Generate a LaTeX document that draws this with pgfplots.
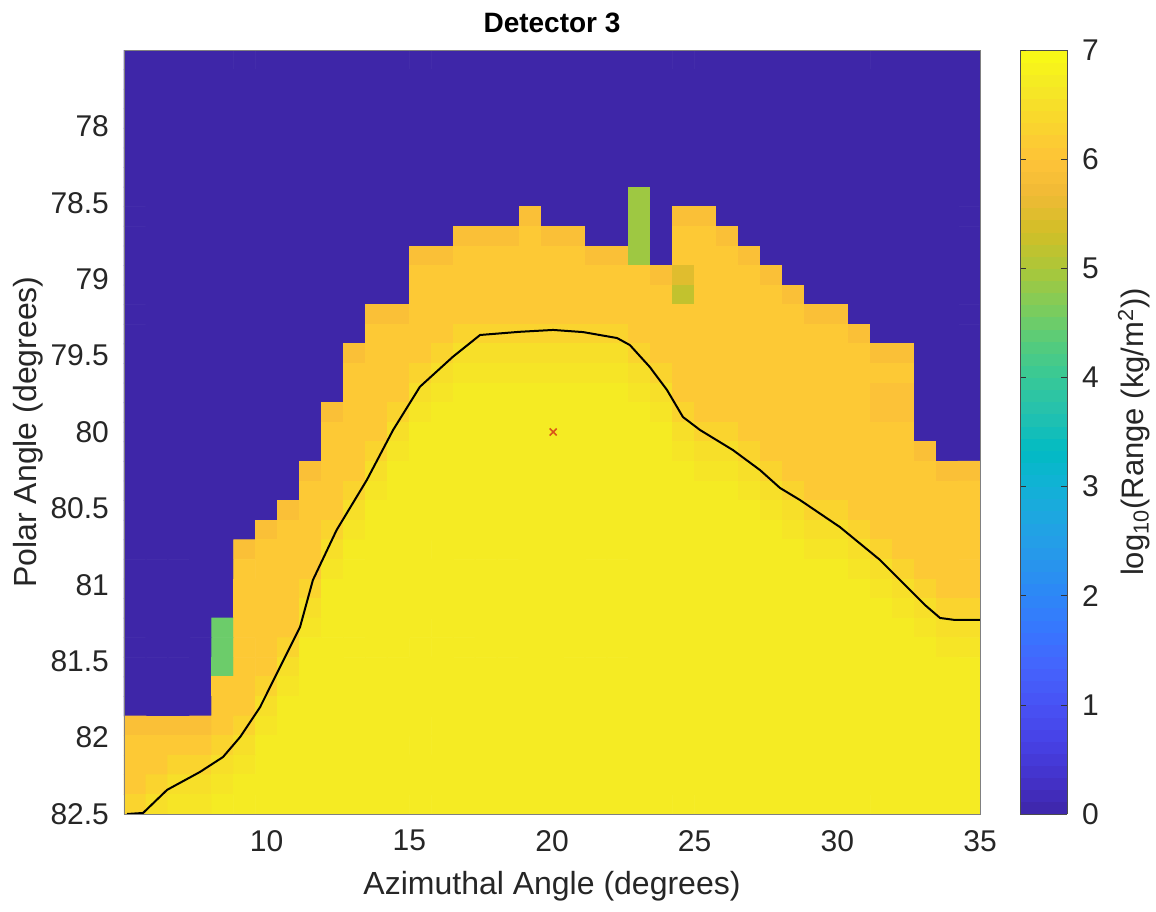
\documentclass[border=0pt]{standalone}
\usepackage{pgfplots}
\pgfplotsset{compat=1.18}
\usepackage{fontspec}
\setmainfont{Liberation Sans}
\definecolor{mred}{rgb}{0.85,0.33,0.10}
\pgfplotsset{colormap={parula}{
rgb=(0.2422,0.1504,0.6603) rgb=(0.2647,0.1978,0.7952) rgb=(0.2783,0.2559,0.8991)
rgb=(0.2810,0.3228,0.9579) rgb=(0.2699,0.3892,0.9906) rgb=(0.2206,0.4603,0.9973)
rgb=(0.1786,0.5289,0.9682) rgb=(0.1540,0.5902,0.9218) rgb=(0.1248,0.6459,0.8883)
rgb=(0.0689,0.6948,0.8394) rgb=(0.0067,0.7312,0.7660) rgb=(0.1408,0.7584,0.6842)
rgb=(0.2161,0.7843,0.5923) rgb=(0.3406,0.8008,0.4789) rgb=(0.5044,0.7993,0.3480)
rgb=(0.6720,0.7793,0.2227) rgb=(0.8203,0.7498,0.1535) rgb=(0.9393,0.7288,0.2100)
rgb=(0.9970,0.7659,0.2199) rgb=(0.9786,0.8386,0.1766) rgb=(0.9597,0.9135,0.1423)
rgb=(0.9769,0.9839,0.0805)}}
\begin{document}
\begin{tikzpicture}
\begin{axis}[
  name=ax, scale only axis, width=428pt, height=382pt,
  xmin=5, xmax=35, ymin=77.5, ymax=82.5, y dir=reverse,
  xtick={10,15,20,25,30,35}, xticklabels={10,15,20,25,30,35},
  ytick={78,78.5,79,79.5,80,80.5,81,81.5,82,82.5},
  yticklabels={78,78.5,79,79.5,80,80.5,81,81.5,82,82.5},
  tick label style={font=\fontsize{15}{17}\selectfont, text=black!85},
  xticklabel style={yshift=-4.5pt},
  yticklabel style={xshift=-4pt},
  xtick style={draw=none}, ytick style={draw=none},
  axis line style={draw=black!50, line width=0.4pt},
  xlabel={Azimuthal Angle (degrees)}, ylabel={Polar Angle (degrees)},
  label style={font=\fontsize{16}{19}\selectfont, text=black!85},
  xlabel style={yshift=-3pt}, ylabel style={yshift=-3pt},
  title={Detector 3}, title style={font=\bfseries\fontsize{14}{17}\selectfont, yshift=-1pt},
  colormap name=parula, point meta min=0, point meta max=7,
  colorbar sampled,
  colorbar style={at={(parent axis.north east)}, anchor=north west, xshift=11.5pt,
    samples=64,
    width=23.5pt, ytick={0,1,2,3,4,5,6,7}, yticklabels={0,1,2,3,4,5,6,7},
    yticklabel style={font=\fontsize{15}{17}\selectfont, text=black!85, xshift=4pt},
    ytick style={draw=black!80}, major tick length=3pt, tick align=inside,
    axis line style={draw=black!70},
    ylabel={log\textsubscript{10}(Range (kg/m\textsuperscript{2}))},
    ylabel style={font=\fontsize{15.5}{18}\selectfont, text=black!85, inner sep=0pt, yshift=-6pt}},
]
\addplot[matrix plot, mesh/cols=39, point meta=explicit]
  table[row sep=\\, meta=v,
    x expr={5+30*(\coordindex-39*floor((\coordindex+0.5)/39)+0.5)/39},
    y expr={77.5+5*(floor((\coordindex+0.5)/39)+0.5)/39}] {
v\\
0\\0\\0\\0\\0\\0\\0\\0\\0\\0\\ 0\\0\\0\\0\\0\\0\\0\\0\\0\\0\\ 0\\0\\0\\0\\0\\0\\0\\0\\0\\0\\ 0\\0\\0\\0\\0\\0\\0\\0\\0\\
0\\0\\0\\0\\0\\0\\0\\0\\0\\0\\ 0\\0\\0\\0\\0\\0\\0\\0\\0\\0\\ 0\\0\\0\\0\\0\\0\\0\\0\\0\\0\\ 0\\0\\0\\0\\0\\0\\0\\0\\0\\
0\\0\\0\\0\\0\\0\\0\\0\\0\\0\\ 0\\0\\0\\0\\0\\0\\0\\0\\0\\0\\ 0\\0\\0\\0\\0\\0\\0\\0\\0\\0\\ 0\\0\\0\\0\\0\\0\\0\\0\\0\\
0\\0\\0\\0\\0\\0\\0\\0\\0\\0\\ 0\\0\\0\\0\\0\\0\\0\\0\\0\\0\\ 0\\0\\0\\0\\0\\0\\0\\0\\0\\0\\ 0\\0\\0\\0\\0\\0\\0\\0\\0\\
0\\0\\0\\0\\0\\0\\0\\0\\0\\0\\ 0\\0\\0\\0\\0\\0\\0\\0\\0\\0\\ 0\\0\\0\\0\\0\\0\\0\\0\\0\\0\\ 0\\0\\0\\0\\0\\0\\0\\0\\0\\
0\\0\\0\\0\\0\\0\\0\\0\\0\\0\\ 0\\0\\0\\0\\0\\0\\0\\0\\0\\0\\ 0\\0\\0\\0\\0\\0\\0\\0\\0\\0\\ 0\\0\\0\\0\\0\\0\\0\\0\\0\\
0\\0\\0\\0\\0\\0\\0\\0\\0\\0\\ 0\\0\\0\\0\\0\\0\\0\\0\\0\\0\\ 0\\0\\0\\0\\0\\0\\0\\0\\0\\0\\ 0\\0\\0\\0\\0\\0\\0\\0\\0\\
0\\0\\0\\0\\0\\0\\0\\0\\0\\0\\ 0\\0\\0\\0\\0\\0\\0\\0\\0\\0\\ 0\\0\\0\\4.9\\0\\0\\0\\0\\0\\0\\ 0\\0\\0\\0\\0\\0\\0\\0\\0\\
0\\0\\0\\0\\0\\0\\0\\0\\0\\0\\ 0\\0\\0\\0\\0\\0\\0\\0\\5.9\\0\\ 0\\0\\0\\4.9\\0\\5.9\\5.9\\0\\0\\0\\ 0\\0\\0\\0\\0\\0\\0\\0\\0\\
0\\0\\0\\0\\0\\0\\0\\0\\0\\0\\ 0\\0\\0\\0\\0\\5.9\\5.9\\5.9\\6.1\\5.9\\ 5.9\\0\\0\\4.9\\0\\6.1\\6.1\\5.9\\0\\0\\ 0\\0\\0\\0\\0\\0\\0\\0\\0\\
0\\0\\0\\0\\0\\0\\0\\0\\0\\0\\ 0\\0\\0\\5.9\\5.9\\6.1\\6.1\\6.1\\6.1\\6.1\\ 6.1\\5.9\\5.9\\4.9\\0\\6.1\\6.1\\6.1\\5.9\\0\\ 0\\0\\0\\0\\0\\0\\0\\0\\0\\
0\\0\\0\\0\\0\\0\\0\\0\\0\\0\\ 0\\0\\0\\6.1\\6.1\\6.1\\6.1\\6.1\\6.1\\6.1\\ 6.1\\6.1\\6.1\\6.1\\5.9\\5.5\\6.1\\6.1\\6.1\\5.9\\ 0\\0\\0\\0\\0\\0\\0\\0\\0\\
0\\0\\0\\0\\0\\0\\0\\0\\0\\0\\ 0\\0\\0\\6.1\\6.1\\6.1\\6.1\\6.1\\6.1\\6.1\\ 6.1\\6.1\\6.1\\6.1\\6.1\\5.2\\6.1\\6.1\\6.1\\6.1\\ 5.9\\0\\0\\0\\0\\0\\0\\0\\0\\
0\\0\\0\\0\\0\\0\\0\\0\\0\\0\\ 0\\5.9\\5.9\\6.1\\6.1\\6.1\\6.1\\6.1\\6.1\\6.1\\ 6.1\\6.1\\6.1\\6.1\\6.1\\6.1\\6.1\\6.1\\6.1\\6.1\\ 6.1\\5.9\\5.9\\0\\0\\0\\0\\0\\0\\
0\\0\\0\\0\\0\\0\\0\\0\\0\\0\\ 0\\6.1\\6.1\\6.1\\6.1\\6.3\\6.3\\6.3\\6.3\\6.3\\ 6.3\\6.3\\6.3\\6.1\\6.1\\6.1\\6.1\\6.1\\6.1\\6.1\\ 6.1\\6.1\\6.1\\5.9\\0\\0\\0\\0\\0\\
0\\0\\0\\0\\0\\0\\0\\0\\0\\0\\ 5.9\\6.1\\6.1\\6.1\\6.3\\6.5\\6.5\\6.5\\6.5\\6.5\\ 6.5\\6.5\\6.5\\6.3\\6.1\\6.1\\6.1\\6.1\\6.1\\6.1\\ 6.1\\6.1\\6.1\\6.1\\5.9\\5.9\\0\\0\\0\\
0\\0\\0\\0\\0\\0\\0\\0\\0\\0\\ 6.1\\6.1\\6.1\\6.3\\6.5\\6.6\\6.6\\6.6\\6.6\\6.6\\ 6.6\\6.6\\6.6\\6.5\\6.3\\6.1\\6.1\\6.1\\6.1\\6.1\\ 6.1\\6.1\\6.1\\6.1\\6.1\\6.1\\0\\0\\0\\
0\\0\\0\\0\\0\\0\\0\\0\\0\\0\\ 6.1\\6.1\\6.1\\6.5\\6.6\\6.7\\6.7\\6.7\\6.7\\6.7\\ 6.7\\6.7\\6.7\\6.6\\6.5\\6.1\\6.1\\6.1\\6.1\\6.1\\ 6.1\\6.1\\6.1\\6.1\\5.95\\5.95\\0\\0\\0\\
0\\0\\0\\0\\0\\0\\0\\0\\0\\5.9\\ 6.1\\6.1\\6.3\\6.6\\6.7\\6.7\\6.7\\6.7\\6.7\\6.7\\ 6.7\\6.7\\6.7\\6.7\\6.6\\6.3\\6.1\\6.1\\6.1\\6.1\\ 6.1\\6.1\\6.1\\6.1\\5.95\\5.95\\0\\0\\0\\
0\\0\\0\\0\\0\\0\\0\\0\\0\\6.1\\ 6.1\\6.1\\6.5\\6.7\\6.7\\6.7\\6.7\\6.7\\6.7\\6.7\\ 6.7\\6.7\\6.7\\6.7\\6.7\\6.5\\6.3\\6.3\\6.1\\6.1\\ 6.1\\6.1\\6.1\\6.1\\6.1\\6.1\\0\\0\\0\\
0\\0\\0\\0\\0\\0\\0\\0\\0\\6.1\\ 6.1\\6.3\\6.6\\6.7\\6.7\\6.7\\6.7\\6.7\\6.7\\6.7\\ 6.7\\6.7\\6.7\\6.7\\6.7\\6.6\\6.5\\6.5\\6.3\\6.1\\ 6.1\\6.1\\6.1\\6.1\\6.1\\6.1\\5.9\\0\\0\\
0\\0\\0\\0\\0\\0\\0\\0\\5.9\\6.1\\ 6.1\\6.5\\6.7\\6.7\\6.7\\6.7\\6.7\\6.7\\6.7\\6.7\\ 6.7\\6.7\\6.7\\6.7\\6.7\\6.7\\6.6\\6.6\\6.5\\6.3\\ 6.1\\6.1\\6.1\\6.1\\6.1\\6.1\\6.1\\5.9\\5.9\\
0\\0\\0\\0\\0\\0\\0\\0\\6.1\\6.1\\ 6.3\\6.6\\6.7\\6.7\\6.7\\6.7\\6.7\\6.7\\6.7\\6.7\\ 6.7\\6.7\\6.7\\6.7\\6.7\\6.7\\6.7\\6.7\\6.6\\6.5\\ 6.3\\6.1\\6.1\\6.1\\6.1\\6.1\\6.1\\6.1\\6.1\\
0\\0\\0\\0\\0\\0\\0\\5.9\\6.1\\6.1\\ 6.5\\6.7\\6.7\\6.7\\6.7\\6.7\\6.7\\6.7\\6.7\\6.7\\ 6.7\\6.7\\6.7\\6.7\\6.7\\6.7\\6.7\\6.7\\6.7\\6.6\\ 6.5\\6.3\\6.3\\6.1\\6.1\\6.1\\6.1\\6.1\\6.1\\
0\\0\\0\\0\\0\\0\\5.9\\6.1\\6.1\\6.3\\ 6.6\\6.7\\6.7\\6.7\\6.7\\6.7\\6.7\\6.7\\6.7\\6.7\\ 6.7\\6.7\\6.7\\6.7\\6.7\\6.7\\6.7\\6.7\\6.7\\6.7\\ 6.6\\6.5\\6.5\\6.3\\6.1\\6.1\\6.1\\6.1\\6.1\\
0\\0\\0\\0\\0\\5.9\\6.1\\6.1\\6.1\\6.5\\ 6.7\\6.7\\6.7\\6.7\\6.7\\6.7\\6.7\\6.7\\6.7\\6.7\\ 6.7\\6.7\\6.7\\6.7\\6.7\\6.7\\6.7\\6.7\\6.7\\6.7\\ 6.7\\6.6\\6.6\\6.5\\6.3\\6.1\\6.1\\6.1\\6.1\\
0\\0\\0\\0\\0\\6.1\\6.1\\6.1\\6.1\\6.6\\ 6.7\\6.7\\6.7\\6.7\\6.7\\6.7\\6.7\\6.7\\6.7\\6.7\\ 6.7\\6.7\\6.7\\6.7\\6.7\\6.7\\6.7\\6.7\\6.7\\6.7\\ 6.7\\6.7\\6.7\\6.6\\6.5\\6.3\\6.1\\6.1\\6.1\\
0\\0\\0\\0\\0\\6.1\\6.1\\6.1\\6.3\\6.7\\ 6.7\\6.7\\6.7\\6.7\\6.7\\6.7\\6.7\\6.7\\6.7\\6.7\\ 6.7\\6.7\\6.7\\6.7\\6.7\\6.7\\6.7\\6.7\\6.7\\6.7\\ 6.7\\6.7\\6.7\\6.7\\6.6\\6.5\\6.3\\6.1\\6.1\\
0\\0\\0\\0\\0\\6.1\\6.1\\6.1\\6.5\\6.7\\ 6.7\\6.7\\6.7\\6.7\\6.7\\6.7\\6.7\\6.7\\6.7\\6.7\\ 6.7\\6.7\\6.7\\6.7\\6.7\\6.7\\6.7\\6.7\\6.7\\6.7\\ 6.7\\6.7\\6.7\\6.7\\6.7\\6.6\\6.5\\6.3\\6.3\\
0\\0\\0\\0\\4.5\\6.1\\6.1\\6.1\\6.6\\6.7\\ 6.7\\6.7\\6.7\\6.7\\6.7\\6.7\\6.7\\6.7\\6.7\\6.7\\ 6.7\\6.7\\6.7\\6.7\\6.7\\6.7\\6.7\\6.7\\6.7\\6.7\\ 6.7\\6.7\\6.7\\6.7\\6.7\\6.7\\6.6\\6.5\\6.5\\
0\\0\\0\\0\\4.5\\6.1\\6.1\\6.3\\6.7\\6.7\\ 6.7\\6.7\\6.7\\6.7\\6.7\\6.7\\6.7\\6.7\\6.7\\6.7\\ 6.7\\6.7\\6.7\\6.7\\6.7\\6.7\\6.7\\6.7\\6.7\\6.7\\ 6.7\\6.7\\6.7\\6.7\\6.7\\6.7\\6.7\\6.6\\6.6\\
0\\0\\0\\0\\4.5\\6.1\\6.1\\6.5\\6.7\\6.7\\ 6.7\\6.7\\6.7\\6.7\\6.7\\6.7\\6.7\\6.7\\6.7\\6.7\\ 6.7\\6.7\\6.7\\6.7\\6.7\\6.7\\6.7\\6.7\\6.7\\6.7\\ 6.7\\6.7\\6.7\\6.7\\6.7\\6.7\\6.7\\6.7\\6.7\\
0\\0\\0\\0\\6.1\\6.1\\6.3\\6.6\\6.7\\6.7\\ 6.7\\6.7\\6.7\\6.7\\6.7\\6.7\\6.7\\6.7\\6.7\\6.7\\ 6.7\\6.7\\6.7\\6.7\\6.7\\6.7\\6.7\\6.7\\6.7\\6.7\\ 6.7\\6.7\\6.7\\6.7\\6.7\\6.7\\6.7\\6.7\\6.7\\
0\\0\\0\\0\\6.1\\6.1\\6.5\\6.7\\6.7\\6.7\\ 6.7\\6.7\\6.7\\6.7\\6.7\\6.7\\6.7\\6.7\\6.7\\6.7\\ 6.7\\6.7\\6.7\\6.7\\6.7\\6.7\\6.7\\6.7\\6.7\\6.7\\ 6.7\\6.7\\6.7\\6.7\\6.7\\6.7\\6.7\\6.7\\6.7\\
5.9\\5.9\\5.9\\5.9\\6.1\\6.3\\6.6\\6.7\\6.7\\6.7\\ 6.7\\6.7\\6.7\\6.7\\6.7\\6.7\\6.7\\6.7\\6.7\\6.7\\ 6.7\\6.7\\6.7\\6.7\\6.7\\6.7\\6.7\\6.7\\6.7\\6.7\\ 6.7\\6.7\\6.7\\6.7\\6.7\\6.7\\6.7\\6.7\\6.7\\
6.1\\6.1\\6.1\\6.1\\6.3\\6.5\\6.7\\6.7\\6.7\\6.7\\ 6.7\\6.7\\6.7\\6.7\\6.7\\6.7\\6.7\\6.7\\6.7\\6.7\\ 6.7\\6.7\\6.7\\6.7\\6.7\\6.7\\6.7\\6.7\\6.7\\6.7\\ 6.7\\6.7\\6.7\\6.7\\6.7\\6.7\\6.7\\6.7\\6.7\\
6.1\\6.1\\6.3\\6.3\\6.5\\6.6\\6.7\\6.7\\6.7\\6.7\\ 6.7\\6.7\\6.7\\6.7\\6.7\\6.7\\6.7\\6.7\\6.7\\6.7\\ 6.7\\6.7\\6.7\\6.7\\6.7\\6.7\\6.7\\6.7\\6.7\\6.7\\ 6.7\\6.7\\6.7\\6.7\\6.7\\6.7\\6.7\\6.7\\6.7\\
6.1\\6.3\\6.5\\6.5\\6.6\\6.7\\6.7\\6.7\\6.7\\6.7\\ 6.7\\6.7\\6.7\\6.7\\6.7\\6.7\\6.7\\6.7\\6.7\\6.7\\ 6.7\\6.7\\6.7\\6.7\\6.7\\6.7\\6.7\\6.7\\6.7\\6.7\\ 6.7\\6.7\\6.7\\6.7\\6.7\\6.7\\6.7\\6.7\\6.7\\
6.3\\6.5\\6.6\\6.6\\6.7\\6.7\\6.7\\6.7\\6.7\\6.7\\ 6.7\\6.7\\6.7\\6.7\\6.7\\6.7\\6.7\\6.7\\6.7\\6.7\\ 6.7\\6.7\\6.7\\6.7\\6.7\\6.7\\6.7\\6.7\\6.7\\6.7\\ 6.7\\6.7\\6.7\\6.7\\6.7\\6.7\\6.7\\6.7\\6.7\\
};
\addplot[black, line width=1pt] coordinates {
(5.105,82.5) (5.67,82.493) (6.51,82.342) (7.66,82.225) (8.47,82.127) (9.07,81.996)
(9.77,81.80) (10.47,81.538) (11.17,81.276) (11.62,80.969) (12.45,80.642) (13.51,80.314)
(14.43,79.987) (15.37,79.704) (16.53,79.507) (17.48,79.365) (18.88,79.344) (20.04,79.332)
(21.09,79.346) (22.28,79.385) (22.73,79.431) (23.43,79.575) (24.03,79.725) (24.59,79.902)
(25.19,79.987) (26.34,80.118) (27.29,80.249) (27.99,80.366) (28.69,80.445) (30.09,80.622)
(31.50,80.838) (32.37,81.001) (33.07,81.132) (33.60,81.217) (34.12,81.23) (35.0,81.23)};
\addplot[only marks, mark=x, mark size=2.5pt, line width=0.8pt, color=mred] coordinates {(20.04,80.0)};
\end{axis}
\path ([xshift=-62pt,yshift=-48.5pt]ax.south west) rectangle ([xshift=516pt,yshift=407pt]ax.south west);
\end{tikzpicture}
\end{document}
